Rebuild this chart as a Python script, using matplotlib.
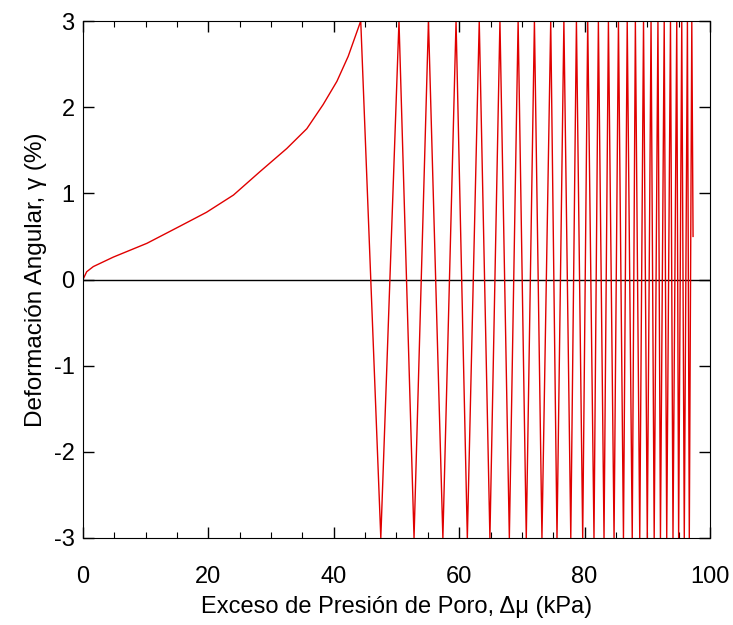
import numpy as np
import matplotlib.pyplot as plt
from matplotlib.ticker import MultipleLocator

plt.rcParams['font.family'] = ['Liberation Sans', 'DejaVu Sans']
plt.rcParams['axes.unicode_minus'] = False

# initial monotonic loading branch
x_ini = [0.0, 0.59, 1.65, 4.84, 10.2, 15.5, 19.7, 24.0, 28.2, 32.5, 35.7, 38.3, 40.5, 42.3]
y_ini = [0.0, 0.09, 0.15, 0.26, 0.42, 0.62, 0.78, 0.98, 1.25, 1.52, 1.75, 2.03, 2.30, 2.59]

# x positions where the strain reaches +3 and -3
x_peaks = [44.3, 50.4, 55.1, 59.5, 63.2, 66.5, 69.4, 72.0, 74.6, 76.7, 78.7, 80.5, 82.2,
           83.8, 85.4, 86.8, 88.1, 89.4, 90.6, 91.7, 92.7, 93.7, 94.7, 95.5, 96.4, 97.1]
x_troughs = [47.5, 52.8, 57.4, 61.3, 64.9, 68.0, 70.7, 73.2, 75.6, 77.8, 79.7, 81.5, 83.1,
             84.7, 86.2, 87.6, 88.8, 90.0, 91.1, 92.1, 93.1, 94.1, 95.0, 95.9, 96.7]
x_end = 97.3
y_end = 0.5

xs = list(x_ini)
ys = list(y_ini)
for i in range(len(x_peaks)):
    xs.append(x_peaks[i])
    ys.append(3.0)
    if i < len(x_troughs):
        xs.append(x_troughs[i])
        ys.append(-3.0)
xs.append(x_end)
ys.append(y_end)

fig = plt.figure(figsize=(7.33, 6.25), dpi=100)
ax = fig.add_axes([0.1132, 0.1392, 0.8554, 0.8272])

ax.axhline(0, color='black', lw=1.0)
ax.plot(xs, ys, color='#e00000', lw=1.0)

ax.set_xlim(0, 100)
ax.set_ylim(-3, 3)
ax.xaxis.set_major_locator(MultipleLocator(20))
ax.xaxis.set_minor_locator(MultipleLocator(5))
ax.yaxis.set_major_locator(MultipleLocator(1))
ax.tick_params(which='both', direction='in', top=True, right=True, labelsize=17)
ax.tick_params(axis='x', pad=20)
ax.tick_params(axis='y', pad=6)
ax.tick_params(which='major', length=8, width=1)
ax.tick_params(which='minor', length=4.5, width=0.8)

ax.set_xlabel('Exceso de Presión de Poro, Δμ (kPa)', fontsize=17, labelpad=6)
ax.set_ylabel('Deformación Angular, γ (%)', fontsize=17.5, labelpad=5)

fig.savefig('out.png', dpi=100)
